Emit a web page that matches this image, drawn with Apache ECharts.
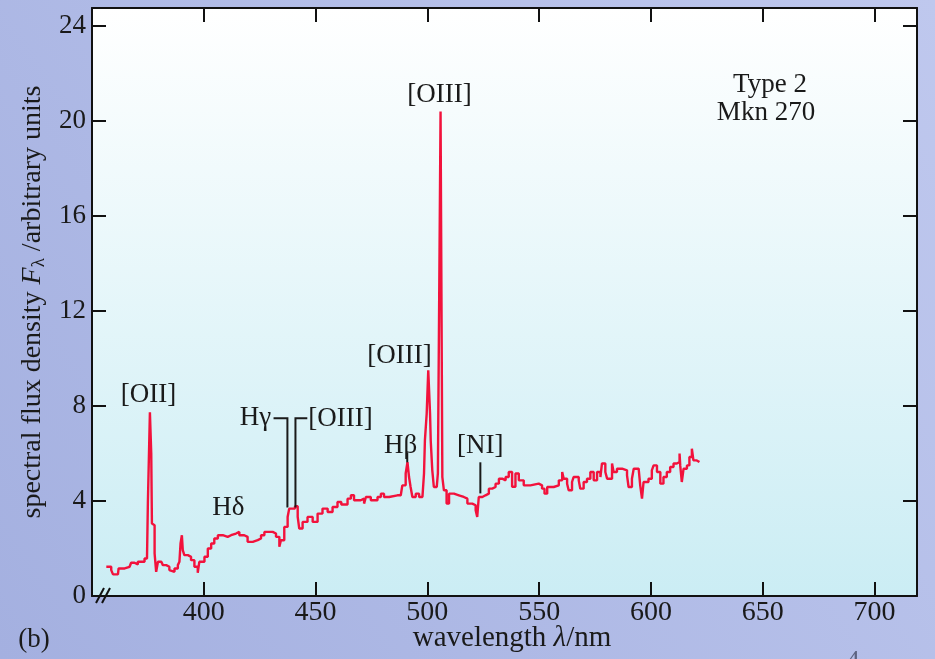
<!DOCTYPE html>
<html>
<head>
<meta charset="utf-8">
<script src="https://cdn.jsdelivr.net/npm/echarts@6/dist/echarts.min.js"></script>
<style>
  html, body { margin: 0; padding: 0; }
  #main { width: 935px; height: 659px; }
</style>
</head>
<body>
<div id="main"></div>
<script>
// spectrum of Mkn 270
var wavelength = [
  356.4, 358.6, 359.4, 361.6, 361.9, 364.6, 366.8, 367.5, 369.0, 370.5,
  372.0, 373.5, 374.6, 375.0, 375.7, 375.9, 376.5, 376.8, 377.4, 378.0,
  378.7, 379.5, 381.0, 381.7, 383.2, 384.6, 385.4, 386.9, 388.4, 389.1,
  389.6, 390.2, 390.6, 391.3, 392.9, 394.3, 395.8, 397.3, 398.0, 400.3,
  401.8, 403.3, 404.7, 406.3, 408.5, 410.7, 412.2, 414.4, 415.9, 418.1,
  419.6, 421.9, 424.1, 425.6, 427.1, 429.3, 430.8, 432.3, 433.8, 434.5,
  436.0, 437.5, 438.2, 439.7, 440.8, 442.0, 442.7, 444.2, 446.4, 448.7,
  450.9, 453.1, 455.4, 457.6, 459.8, 461.5, 464.3, 465.8, 467.2, 470.2,
  471.7, 472.5, 474.7, 477.7, 479.2, 480.6, 482.9, 486.6, 488.1, 488.8,
  490.3, 491.1, 491.8, 492.5, 493.3, 494.8, 496.3, 497.8, 498.5, 498.9,
  499.7, 500.4, 501.2, 501.5, 502.2, 502.9, 504.2, 504.7, 505.3, 505.9,
  506.7, 507.4, 508.6, 509.7, 511.9, 514.1, 516.3, 517.9, 520.1, 521.6,
  522.3, 523.0, 524.6, 526.0, 527.5, 529.0, 530.5, 532.0, 533.5, 535.0,
  536.4, 537.9, 539.4, 540.9, 543.1, 546.1, 549.8, 551.3, 552.4, 553.6,
  556.5, 558.8, 560.3, 561.0, 562.5, 563.2, 564.7, 565.4, 567.7, 568.4,
  569.9, 571.4, 572.9, 574.4, 575.9, 577.4, 578.1, 579.6, 580.4, 582.6,
  583.3, 584.8, 587.1, 589.3, 590.0, 591.5, 592.3, 594.5, 595.2, 596.0,
  596.7, 598.9, 600.4, 601.2, 602.7, 604.2, 605.6, 607.1, 608.6, 610.1,
  611.6, 612.8, 613.1, 613.8, 614.6, 616.1, 617.2, 618.3, 619.0, 620.5,
  621.7
];
var flux = [
  1.23, 1.09, 0.91, 0.91, 1.16, 1.23, 1.26, 1.40, 1.33, 1.44,
  1.44, 1.58, 1.65, 3.96, 3.96, 7.74, 6.00, 3.05, 2.98, 1.79,
  1.02, 1.44, 1.51, 1.30, 1.23, 1.09, 1.02, 1.16, 1.30, 1.44,
  2.21, 2.56, 1.93, 1.72, 1.65, 1.51, 1.23, 0.98, 1.44, 1.65,
  2.00, 2.21, 2.42, 2.56, 2.49, 2.56, 2.63, 2.70, 2.56, 2.49,
  2.28, 2.35, 2.42, 2.56, 2.70, 2.70, 2.63, 2.49, 2.07, 2.35,
  2.91, 3.33, 3.68, 3.68, 3.78, 3.33, 2.84, 3.12, 3.33, 3.12,
  3.47, 3.68, 3.54, 3.75, 3.96, 3.85, 4.10, 4.24, 4.03, 4.10,
  3.89, 4.17, 4.03, 4.17, 4.31, 4.17, 4.24, 4.24, 4.31, 4.66,
  5.16, 5.64, 5.01, 4.59, 4.17, 4.31, 4.17, 4.24, 5.16, 6.55,
  7.68, 9.50, 7.68, 6.55, 5.29, 4.59, 4.52, 5.16, 12.7, 20.4,
  5.01, 4.45, 3.89, 4.31, 4.24, 4.17, 4.10, 3.89, 3.82, 3.61,
  3.33, 4.17, 4.24, 4.31, 4.52, 4.59, 4.73, 4.94, 4.87, 5.01,
  5.22, 4.60, 5.16, 4.87, 4.66, 4.73, 4.66, 4.52, 4.31, 4.59,
  4.66, 4.87, 5.22, 4.94, 4.73, 4.45, 4.80, 5.01, 4.87, 4.52,
  4.80, 4.94, 5.22, 4.87, 5.22, 5.01, 5.58, 5.22, 4.94, 5.58,
  5.22, 5.36, 5.29, 5.08, 4.59, 4.94, 5.36, 5.43, 4.66, 4.10,
  4.80, 4.94, 5.29, 5.50, 5.22, 4.73, 5.01, 5.22, 5.43, 5.58,
  5.64, 6.00, 5.50, 4.80, 5.36, 5.50, 5.85, 6.20, 5.71, 5.64,
  5.64
];

var xTicks = [400, 450, 500, 550, 600, 650, 700];
var yTicks = [0, 4, 8, 12, 16, 20, 24];

// line labels, placed in data units
var lineNames = ['[OII]', 'H\u03b4', 'H\u03b3', '[OIII]', 'H\u03b2', '[OIII]', '[NI]', '[OIII]'];
var lineNameAt = [
  [375.3, 8.45], [411.0, 3.73], [423.1, 7.52], [461.1, 7.44],
  [488.0, 6.34], [487.5, 10.13], [523.7, 6.34], [505.4, 21.09]
];
// leader lines from labels down to the spectrum
var leaders = [
  [[431.2, 7.48], [437.4, 7.48], [437.4, 3.73]],
  [[446.3, 7.48], [441.0, 7.48], [441.0, 3.73]],
  [[491.0, 6.05], [491.0, 5.63]],
  [[523.7, 5.63], [523.7, 4.32]]
];

var serif = '"Liberation Serif", "DejaVu Serif", serif';

var myChart = echarts.init(document.getElementById('main'));

var axisLine = { show: true, onZero: false, lineStyle: { color: '#111', width: 2 } };
var tick = { show: true, inside: true, length: 14, lineStyle: { color: '#111', width: 2 } };

var option = {
  animation: false,
  backgroundColor: {
    type: 'linear', x: 0, y: 1, x2: 1, y2: 0,
    colorStops: [{ offset: 0, color: '#a4b0e0' }, { offset: 1, color: '#bfc8ee' }]
  },
  grid: {
    left: 92, right: 18, top: 8, bottom: 63,
    show: true, borderWidth: 0,
    backgroundColor: {
      type: 'linear', x: 0, y: 0, x2: 0, y2: 1,
      colorStops: [{ offset: 0, color: '#ffffff' }, { offset: 1, color: '#cbedf4' }]
    }
  },
  xAxis: [{
    type: 'value', min: 350, max: 719, interval: 50, position: 'bottom',
    axisLine: axisLine, axisTick: tick, splitLine: { show: false },
    axisLabel: {
      margin: 3, color: '#1a1a1a', fontFamily: serif, fontSize: 28,
      formatter: function (v) { return xTicks.indexOf(v) >= 0 ? String(v) : ''; }
    }
  }, {
    type: 'value', min: 350, max: 719, interval: 50, position: 'top',
    axisLine: axisLine, axisTick: tick, splitLine: { show: false },
    axisLabel: { show: false }
  }],
  yAxis: [{
    type: 'value', min: 0, max: 24.76, interval: 4, position: 'left',
    axisLine: axisLine, axisTick: tick, splitLine: { show: false },
    axisLabel: {
      margin: 6, color: '#1a1a1a', fontFamily: serif, fontSize: 27,
      formatter: function (v) { return yTicks.indexOf(v) >= 0 ? String(v) : ''; }
    },
    name: 'spectral flux density {i|F}{sub|\u03bb} /arbitrary units',
    nameLocation: 'middle', nameRotate: 90, nameGap: 41,
    nameTextStyle: {
      fontFamily: serif, fontSize: 28, color: '#1a1a1a', lineHeight: 30,
      rich: {
        i: { fontFamily: serif, fontSize: 28, fontStyle: 'italic', color: '#1a1a1a', lineHeight: 30 },
        sub: { fontFamily: serif, fontSize: 19, color: '#1a1a1a', verticalAlign: 'bottom', lineHeight: 30 }
      }
    }
  }, {
    type: 'value', min: 0, max: 24.76, interval: 4, position: 'right',
    axisLine: axisLine, axisTick: tick, splitLine: { show: false },
    axisLabel: { show: false }
  }],
  series: [{
    type: 'line',
    step: 'end',
    data: wavelength.map(function (w, i) { return [w, flux[i]]; }),
    showSymbol: false,
    lineStyle: { color: '#f2123c', width: 2.4 },
    z: 3
  }]
};

myChart.setOption(option);

// labels and leaders, positioned through the axes
function px(p) { return myChart.convertToPixel({ xAxisIndex: 0, yAxisIndex: 0 }, p); }

function label(text, x, y, extra) {
  var st = {
    text: text, font: '27px ' + serif, fill: '#1a1a1a',
    align: 'center', verticalAlign: 'middle',
    textAlign: 'center', textVerticalAlign: 'middle'
  };
  if (extra) for (var k in extra) st[k] = extra[k];
  return { type: 'text', x: x, y: y, style: st, z: 10 };
}

var graphic = [];
lineNames.forEach(function (n, i) {
  var p = px(lineNameAt[i]);
  graphic.push(label(n, p[0], p[1]));
});
leaders.forEach(function (l) {
  graphic.push({
    type: 'polyline', z: 10,
    shape: { points: l.map(px) },
    style: { stroke: '#1a1a1a', lineWidth: 2, fill: null }
  });
});

// axis break mark at the origin
var o = px([350, 0]);
graphic.push({ type: 'line', z: 10, shape: { x1: o[0] + 4, y1: o[1] + 7, x2: o[0] + 12, y2: o[1] - 8 }, style: { stroke: '#111', lineWidth: 2 } });
graphic.push({ type: 'line', z: 10, shape: { x1: o[0] + 10, y1: o[1] + 7, x2: o[0] + 18, y2: o[1] - 8 }, style: { stroke: '#111', lineWidth: 2 } });

graphic.push(label('Type 2', 770, 85));
graphic.push(label('Mkn 270', 766, 113));
graphic.push(label('(b)', 34, 640));
graphic.push(label('wavelength {i|\u03bb}/nm', 512, 638, {
  font: '29px ' + serif,
  rich: { i: { fontFamily: serif, fontSize: 29, fontStyle: 'italic', fill: '#1a1a1a' } }
}));
graphic.push(label('4', 853, 648, { verticalAlign: 'top', textVerticalAlign: 'top', fill: '#5d6380' }));

myChart.setOption({ graphic: graphic });
</script>
</body>
</html>
